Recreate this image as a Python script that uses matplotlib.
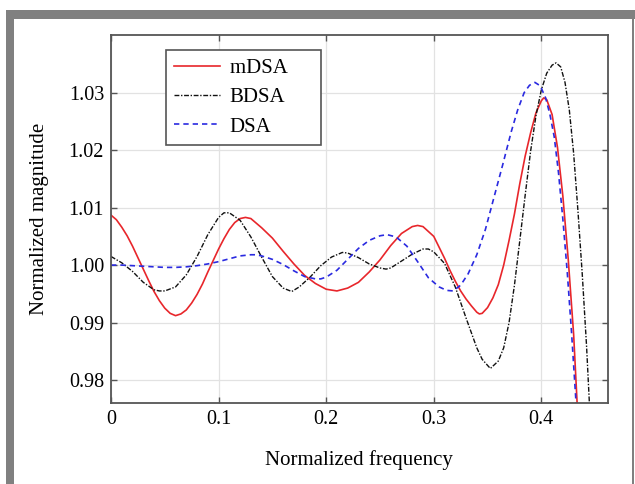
import matplotlib
matplotlib.use("Agg")
import matplotlib.pyplot as plt
from matplotlib.patches import Rectangle

plt.rcParams['font.family'] = ['Liberation Serif', 'DejaVu Serif']

# values
mdsa_x = [0.0, 0.005, 0.01, 0.015, 0.02, 0.025, 0.03, 0.035, 0.04, 0.045,
          0.05, 0.055, 0.06, 0.065, 0.07, 0.075, 0.08, 0.085, 0.09, 0.095,
          0.10, 0.105, 0.11, 0.115, 0.12, 0.125, 0.13, 0.14, 0.15, 0.16,
          0.17, 0.18, 0.19, 0.20, 0.21, 0.22, 0.23, 0.24, 0.25, 0.26,
          0.27, 0.28, 0.285, 0.29, 0.30, 0.31, 0.315, 0.32, 0.325, 0.33,
          0.335, 0.34, 0.3424, 0.345, 0.35, 0.355, 0.36, 0.365, 0.37, 0.375,
          0.38, 0.385, 0.39, 0.395, 0.40, 0.4022, 0.405, 0.41, 0.415, 0.42,
          0.425, 0.43, 0.4332, 0.435]
mdsa_y = [1.0087, 1.0079, 1.0066, 1.0051, 1.0033, 1.0013, 0.9993, 0.9973, 0.9954, 0.9938,
          0.9925, 0.9916, 0.9912, 0.9915, 0.9922, 0.9934, 0.9949, 0.9967, 0.9988, 1.0008,
          1.0028, 1.0046, 1.0062, 1.0074, 1.0081, 1.0083, 1.0081, 1.0065, 1.0047, 1.0024,
          1.0002, 0.9982, 0.9968, 0.9958, 0.9955, 0.9960, 0.9970, 0.9988, 1.0009, 1.0034,
          1.0055, 1.0067, 1.0069, 1.0067, 1.0050, 1.0012, 0.9991, 0.9972, 0.9955, 0.9941,
          0.9929, 0.9918, 0.9915, 0.9916, 0.9926, 0.9943, 0.9966, 1.0000, 1.0043, 1.0089,
          1.0142, 1.0190, 1.0230, 1.0265, 1.0286, 1.0291, 1.0288, 1.0262, 1.0205, 1.0120,
          1.0010, 0.9880, 0.9762, 0.9700]

bdsa_x = [0.0, 0.01, 0.02, 0.03, 0.04, 0.045, 0.05, 0.06, 0.07, 0.08,
          0.09, 0.10, 0.105, 0.11, 0.12, 0.13, 0.14, 0.15, 0.16, 0.168,
          0.175, 0.185, 0.195, 0.205, 0.215, 0.22, 0.23, 0.24, 0.25, 0.2557,
          0.26, 0.27, 0.28, 0.29, 0.295, 0.30, 0.31, 0.32, 0.33, 0.34,
          0.345, 0.3526, 0.36, 0.365, 0.37, 0.375, 0.38, 0.385, 0.39, 0.395,
          0.40, 0.405, 0.41, 0.4137, 0.418, 0.422, 0.426, 0.43, 0.434, 0.438,
          0.442, 0.4446, 0.446]
bdsa_y = [1.0015, 1.0004, 0.9989, 0.9970, 0.9957, 0.9955, 0.9955, 0.9962, 0.9983, 1.0015,
          1.0053, 1.0083, 1.0091, 1.0091, 1.0078, 1.0049, 1.0014, 0.9980, 0.9960, 0.9954,
          0.9962, 0.9979, 0.9999, 1.0014, 1.0022, 1.0021, 1.0013, 1.0002, 0.9995, 0.9993,
          0.9995, 1.0007, 1.0019, 1.0028, 1.0028, 1.0023, 1.0003, 0.9962, 0.9908, 0.9856,
          0.9836, 0.9820, 0.9833, 0.9856, 0.9900, 0.9965, 1.0043, 1.0122, 1.0198, 1.0260,
          1.0305, 1.0334, 1.0348, 1.0352, 1.0345, 1.0318, 1.0270, 1.0195, 1.0095, 0.9985,
          0.9860, 0.9762, 0.9700]

dsa_x = [0.0, 0.01, 0.02, 0.03, 0.04, 0.05, 0.06, 0.07, 0.08, 0.09,
         0.10, 0.11, 0.12, 0.13, 0.135, 0.14, 0.15, 0.16, 0.17, 0.18,
         0.19, 0.195, 0.20, 0.21, 0.22, 0.23, 0.24, 0.25, 0.2566, 0.265,
         0.275, 0.285, 0.295, 0.305, 0.312, 0.318, 0.325, 0.332, 0.34, 0.348,
         0.356, 0.364, 0.372, 0.378, 0.384, 0.389, 0.394, 0.399, 0.404, 0.408,
         0.412, 0.416, 0.420, 0.424, 0.428, 0.4322, 0.434]
dsa_y = [1.0000, 1.0000, 0.9999, 0.9998, 0.9997, 0.9996, 0.9996, 0.9997, 0.9999, 1.0002,
         1.0006, 1.0011, 1.0016, 1.0018, 1.0018, 1.0016, 1.0010, 1.0001, 0.9990, 0.9980,
         0.9976, 0.9976, 0.9979, 0.9991, 1.0010, 1.0029, 1.0043, 1.0051, 1.0053, 1.0049,
         1.0033, 1.0006, 0.9978, 0.9962, 0.9956, 0.9955, 0.9965, 0.9985, 1.0018, 1.0062,
         1.0118, 1.0174, 1.0232, 1.0270, 1.0300, 1.0313, 1.0318, 1.0312, 1.0291, 1.0262,
         1.0223, 1.0160, 1.0080, 0.9990, 0.9885, 0.9762, 0.9700]

x_ticks = [0, 0.1, 0.2, 0.3, 0.4]
x_labels = ['0', '0.1', '0.2', '0.3', '0.4']
y_ticks = [0.98, 0.99, 1.00, 1.01, 1.02, 1.03]
y_labels = ['0.98', '0.99', '1.00', '1.01', '1.02', '1.03']

fig = plt.figure(figsize=(6.35, 4.84), dpi=100)
ax = fig.add_axes([0.1748, 0.1674, 0.7819, 0.7597])

# gray frame around the picture
gray = '#808080'
fig.add_artist(Rectangle((6 / 635, 1 - 19 / 484), 629 / 635, 9 / 484,
                         transform=fig.transFigure, color=gray, lw=0))
fig.add_artist(Rectangle((6 / 635, 0), 8 / 635, 1 - 10 / 484,
                         transform=fig.transFigure, color=gray, lw=0))
fig.add_artist(Rectangle((632 / 635, 0), 2 / 635, 1 - 10 / 484,
                         transform=fig.transFigure, color=gray, lw=0))

ax.plot(mdsa_x, mdsa_y, color='#e8262b', lw=1.2, label='mDSA     ')
ax.plot(bdsa_x, bdsa_y, color='#111111', lw=1.0, dashes=(3.5, 1.2, 1, 1.2), label='BDSA')
ax.plot(dsa_x, dsa_y, color='#2a2ae0', lw=1.2, dashes=(3.2, 2.4), label='DSA')

ax.set_xlim(0, 0.4615)
ax.set_ylim(0.976, 1.04)
ax.set_xticks(x_ticks)
ax.set_xticklabels(x_labels)
ax.set_yticks(y_ticks)
ax.set_yticklabels(y_labels)
ax.grid(True, color='#e2e2e2', lw=0.9)
ax.set_axisbelow(True)
ax.tick_params(direction='in', top=True, right=True, length=4, width=1,
               color='#555555', labelsize=14.5, pad=5)
for s in ax.spines.values():
    s.set_color('#555555')
    s.set_linewidth(1.3)

ax.set_xlabel('Normalized frequency', fontsize=15, labelpad=15)
ax.set_ylabel('Normalized magnitude', fontsize=15, labelpad=14)

leg = ax.legend(loc='upper left', bbox_to_anchor=(0.111, 0.96), borderaxespad=0,
                fontsize=15, handlelength=2.2, handletextpad=0.45, labelspacing=0.47,
                borderpad=0.4, fancybox=False, framealpha=1)
leg.get_frame().set_edgecolor('#555555')
leg.get_frame().set_linewidth(1.2)

fig.savefig('out.png', dpi=100)
